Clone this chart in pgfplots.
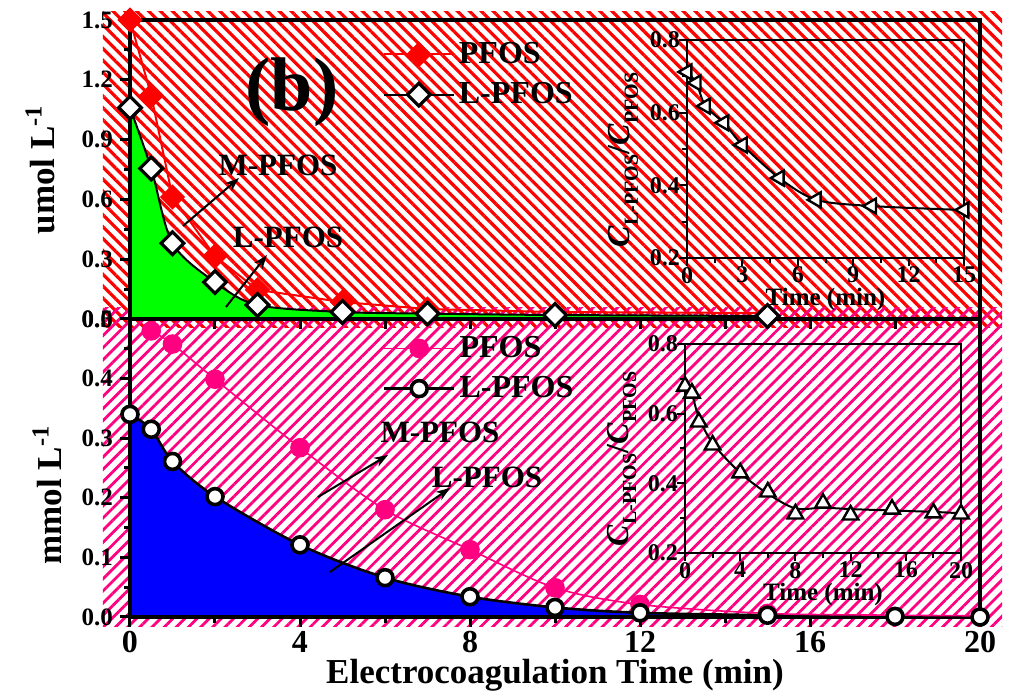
\documentclass[border=0pt]{standalone}
\usepackage{fontspec}
\setmainfont{Liberation Serif}
\usepackage{pgfplots}
\pgfplotsset{compat=1.18}
\usetikzlibrary{patterns.meta,arrows.meta}
\pgfdeclarelayer{hatch}
\pgfdeclarelayer{axis background}
\pgfdeclarelayer{axis grid}
\pgfdeclarelayer{axis ticks}
\pgfdeclarelayer{axis lines}
\pgfdeclarelayer{axis tick labels}
\pgfdeclarelayer{pre main}
\pgfdeclarelayer{axis descriptions}
\pgfdeclarelayer{axis foreground}
\definecolor{mypink}{RGB}{255,0,128}
\definecolor{mygreen}{RGB}{0,255,0}
\definecolor{myblue}{RGB}{0,0,255}
\definecolor{myred}{RGB}{255,0,0}

\pgfplotsset{
  mainax/.style={
    scale only axis, width=425pt, xmin=0, xmax=20,
    set layers,
    axis line style={line width=2pt},
    tick style={line width=1.5pt, black},
    major tick length=5pt, minor tick length=3pt,
    tick align=outside, xtick pos=bottom, ytick pos=left,
    /pgf/number format/assume math mode=true,
    yticklabel style={font=\fontsize{12.5}{14}\selectfont\bfseries, /pgf/number format/fixed, /pgf/number format/fixed zerofill, /pgf/number format/precision=1},
    xticklabel style={font=\fontsize{16}{18}\selectfont\bfseries, yshift=1.5pt},
    legend cell align=left,
    legend image code/.code={\draw[mark repeat=2,mark phase=2,##1] plot coordinates {(0pt,0pt) (17.5pt,0pt) (35pt,0pt)};},
    legend style={draw=none, fill=none, font=\fontsize{16}{18}\selectfont\bfseries, row sep=4pt},
  },
  inax/.style={
    scale only axis,
    set layers,
    axis line style={line width=1pt},
    tick style={line width=1pt, black},
    major tick length=4pt, minor tick length=2.5pt,
    tick align=outside, xtick pos=bottom, ytick pos=left,
    ymin=0.2, ymax=0.8, ytick={0.2,0.4,0.6,0.8}, minor ytick={0.3,0.5,0.7},
    /pgf/number format/assume math mode=true,
    ticklabel style={font=\fontsize{12}{14}\selectfont\bfseries},
    xticklabel style={yshift=3pt},
    yticklabel style={xshift=4pt, /pgf/number format/fixed, /pgf/number format/fixed zerofill, /pgf/number format/precision=1},
    xlabel={Time (min)},
    xlabel style={font=\fontsize{12.5}{14}\selectfont\bfseries, at={(axis description cs:0.5,0)}, anchor=base, yshift=-24pt},
    ylabel={\fontsize{16}{18}\selectfont\textit{C}\raisebox{-4pt}{\fontsize{10}{12}\selectfont L-PFOS}/\textit{C}\raisebox{-4pt}{\fontsize{10}{12}\selectfont PFOS}},
    ylabel style={at={(axis description cs:-0.206,0.45)}, anchor=base, inner sep=0pt, font=\bfseries},
  }
}

\begin{document}
\begin{tikzpicture}[font=\bfseries]
\pgfsetlayers{hatch,axis background,axis grid,axis ticks,axis lines,axis tick labels,pre main,main,axis descriptions,axis foreground}
% hatched backgrounds
\begin{pgfonlayer}{hatch}
\fill[pattern={Lines[angle=-45,distance=4.2pt,line width=1.6pt]}, pattern color=myred] (-13.5pt,144.5pt) rectangle (436pt,302.5pt);
\fill[pattern={Lines[angle=45,distance=4.3pt,line width=1.4pt]}, pattern color=mypink] (-13.5pt,-5pt) rectangle (436pt,154.5pt);
\end{pgfonlayer}

% ---------------- bottom main axis ----------------
\begin{axis}[mainax, at={(0pt,0pt)}, anchor=south west, height=149pt,
  ymin=0, ymax=0.5,
  xtick={0,4,8,12,16,20}, minor xtick={2,6,10,14,18},
  ytick={0,0.1,0.2,0.3,0.4,0.5}, minor ytick={0.05,0.15,0.25,0.35,0.45},
  xlabel={Electrocoagulation Time (min)},
  xlabel style={font=\fontsize{17.5}{20}\selectfont\bfseries, at={(axis description cs:0.5,0)}, anchor=base, yshift=-33.5pt},
  ylabel={mmol L\textsuperscript{-1}},
  ylabel style={font=\fontsize{17.5}{20}\selectfont\bfseries, at={(axis description cs:-0.08,0.41)}, anchor=south, inner sep=0pt},
  legend style={at={(axis cs:5.8,0.485)}, anchor=north west},
]
\addlegendimage{mypink, line width=0.8pt, mark=*, mark size=4.5pt, mark options={fill=mypink, draw=mypink}}
\addlegendentry{PFOS}
\addlegendimage{black, line width=1.3pt, mark=*, mark size=4pt, mark options={fill=white, draw=black, line width=1.8pt}}
\addlegendentry{L-PFOS}
\addplot[on layer=axis background, draw=none, fill=myblue, smooth, forget plot] coordinates {
(0,0.34)(0.5,0.315)(1,0.261)(2,0.202)(4,0.121)(6,0.066)(8,0.034)(10,0.016)(12,0.007)(15,0.003)(18,0.001)(20,0)} \closedcycle;
\addplot[black, line width=1.3pt, smooth, forget plot] coordinates {
(0,0.34)(0.5,0.315)(1,0.261)(2,0.202)(4,0.121)(6,0.066)(8,0.034)(10,0.016)(12,0.007)(15,0.003)(18,0.001)(20,0)};
\addplot[mypink, line width=0.8pt, smooth, mark=*, mark size=4.5pt, mark options={fill=mypink, draw=mypink}, mark indices={1,2,3,4,5,6,7,8,9}, forget plot] coordinates {
(0.5,0.48)(1,0.458)(2,0.399)(4,0.284)(6,0.18)(8,0.113)(10,0.049)(12,0.021)(15,0.006)(18,0.003)(20,0.002)};
\addplot[only marks, mark=*, mark size=4pt, mark options={fill=white, draw=black, line width=1.8pt}, forget plot] coordinates {
(0,0.34)(0.5,0.315)(1,0.261)(2,0.202)(4,0.121)(6,0.066)(8,0.034)(10,0.016)(12,0.007)(15,0.003)(18,0.001)(20,0)};
\end{axis}

% ---------------- top main axis ----------------
\begin{axis}[mainax, at={(0pt,149pt)}, anchor=south west, height=149.5pt,
  ymin=0, ymax=1.5,
  xtick={0,2,...,20}, xticklabels={},
  ytick={0,0.3,0.6,0.9,1.2,1.5}, minor ytick={0.15,0.45,0.75,1.05,1.35},
  ylabel={umol L\textsuperscript{-1}},
  ylabel style={font=\fontsize{17.5}{20}\selectfont\bfseries, at={(axis description cs:-0.0882,0.5)}, anchor=south, inner sep=0pt},
  legend style={at={(axis cs:5.8,1.43)}, anchor=north west},
]
\addlegendimage{myred, line width=1pt, mark=square*, mark size=4pt, mark options={rotate=45, fill=myred, draw=myred}}
\addlegendentry{PFOS}
\addlegendimage{black, line width=1pt, mark=square*, mark size=4pt, mark options={rotate=45, fill=white, draw=black, line width=1.6pt}}
\addlegendentry{L-PFOS}
\addplot[on layer=axis background, draw=none, fill=mygreen, smooth, forget plot] coordinates {
(0,1.06)(0.5,0.755)(1,0.38)(2,0.185)(3,0.07)(5,0.035)(7,0.027)(10,0.02)(15,0.015)} \closedcycle;
\addplot[myred, line width=1pt, mark=square*, mark size=4pt, mark options={rotate=45, fill=myred, draw=myred}, mark indices={1,2,3,4,5,6,7}, forget plot] coordinates {
(0,1.5)(0.5,1.12)(1,0.612)(2,0.315)(3,0.146)(5,0.085)(7,0.05)(10,0.035)(15,0.03)};
\addplot[black, line width=1pt, smooth, forget plot] coordinates {
(0,1.06)(0.5,0.755)(1,0.38)(2,0.185)(3,0.07)(5,0.035)(7,0.027)(10,0.02)(15,0.015)};
\addplot[only marks, mark=square*, mark size=4pt, mark options={rotate=45, fill=white, draw=black, line width=1.6pt}, forget plot] coordinates {
(0,1.06)(0.5,0.755)(1,0.38)(2,0.185)(3,0.07)(5,0.035)(7,0.027)(10,0.02)(15,0.015)};
\end{axis}

% ---------------- top inset ----------------
\begin{axis}[inax, at={(278.5pt,179.5pt)}, anchor=south west, width=138.5pt, height=109pt,
  xmin=0, xmax=15, xtick={0,3,6,9,12,15}, minor xtick={1.5,4.5,7.5,10.5,13.5}]
\addplot[black, line width=1pt, smooth, mark=triangle*, mark size=4.3pt, mark options={rotate=90, fill=white, line width=1.2pt}] coordinates {
(0,0.712)(0.5,0.682)(1,0.618)(2,0.572)(3,0.511)(5,0.42)(7,0.36)(10,0.343)(15,0.332)};
\end{axis}

% ---------------- bottom inset ----------------
\begin{axis}[inax, at={(277.5pt,32pt)}, anchor=south west, width=138pt, height=104.5pt,
  xmin=0, xmax=20, xtick={0,4,8,12,16,20}, minor xtick={2,6,10,14,18}]
\addplot[black, line width=1pt, smooth] coordinates {
(0,0.68)(0.5,0.655)(1,0.59)(2,0.515)(4,0.43)(6,0.37)(8,0.328)(10,0.33)(12,0.326)(15,0.322)(18,0.318)(20,0.314)};
\addplot[only marks, mark=triangle*, mark size=4.5pt, mark options={fill=white, draw=black, line width=1.2pt}] coordinates {
(0,0.679)(0.5,0.659)(1,0.576)(2,0.51)(4,0.43)(6,0.375)(8,0.312)(10,0.343)(12,0.309)(15,0.326)(18,0.315)(20,0.312)};
\end{axis}

% ---------------- annotations ----------------
\node[font=\fontsize{38}{40}\selectfont\bfseries] at (81pt,262.5pt) {(b)};
\node[font=\fontsize{15.5}{18}\selectfont\bfseries] at (74pt,226pt) {M-PFOS};
\node[font=\fontsize{15.5}{18}\selectfont\bfseries] at (79pt,190pt) {L-PFOS};
\node[font=\fontsize{15.5}{18}\selectfont\bfseries] at (155pt,92.5pt) {M-PFOS};
\node[font=\fontsize{15.5}{18}\selectfont\bfseries] at (178.5pt,70pt) {L-PFOS};
\draw[-{Stealth[length=7pt,width=5pt]}, line width=1pt] (26.5pt,195.5pt) -- (54.5pt,219.5pt);
\draw[-{Stealth[length=7pt,width=5pt]}, line width=1pt] (48pt,155pt) -- (68.5pt,181pt);
\draw[-{Stealth[length=7pt,width=5pt]}, line width=1pt] (94pt,60pt) -- (129pt,81pt);
\draw[-{Stealth[length=7pt,width=5pt]}, line width=1pt] (100pt,22.5pt) -- (160pt,64.5pt);
\pgfresetboundingbox
\path[use as bounding box] (-65pt,-38.5pt) rectangle (441.5pt,308.5pt);
\pgfsetlayers{hatch,axis background,axis grid,axis ticks,axis lines,axis tick labels,pre main,main,axis descriptions,axis foreground}
\end{tikzpicture}
\end{document}
